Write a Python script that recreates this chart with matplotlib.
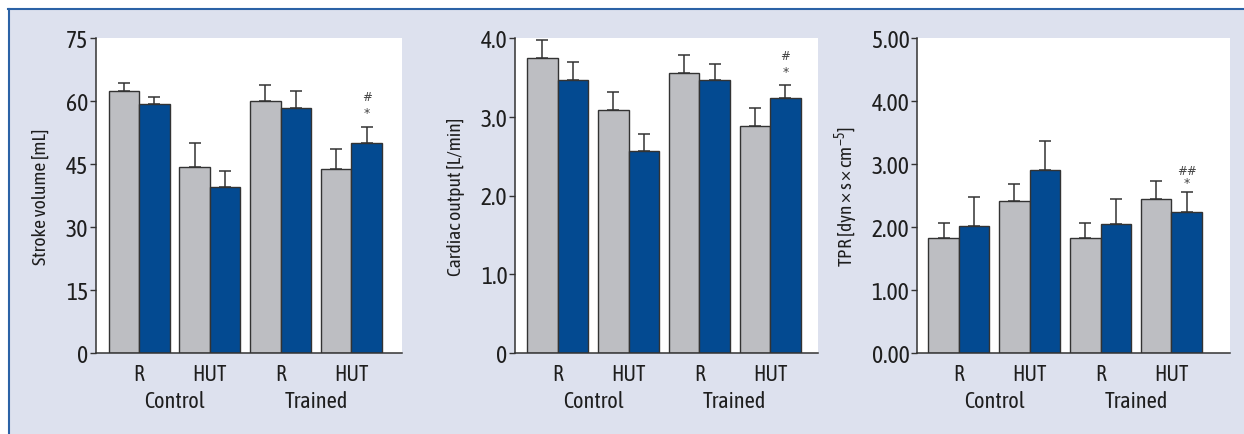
import numpy as np
import matplotlib
matplotlib.use("Agg")
import matplotlib.pyplot as plt
from matplotlib import font_manager
from matplotlib.patches import Rectangle
from matplotlib.lines import Line2D

# pick a narrow sans if one is installed (reference uses a condensed face)
installed = {(f.name, f.stretch) for f in font_manager.fontManager.ttflist}
names = {n for n, _ in installed}
family = 'Liberation Sans'
if 'Liberation Sans Narrow' in names:
    family = 'Liberation Sans Narrow'
elif any('Condensed' in n for n in names):
    family = sorted(n for n in names if 'Condensed' in n)[0]

narrow = family != 'Liberation Sans'
plt.rcParams['font.family'] = [family, 'Liberation Sans', 'DejaVu Sans']
plt.rcParams['mathtext.fontset'] = 'custom'
plt.rcParams['mathtext.rm'] = family
plt.rcParams['mathtext.it'] = family

conditions = ['R', 'HUT', 'R', 'HUT']
groups = ['Control', 'Trained']

# gray = first bar, blue = second bar of each pair
sv_gray = [62.5, 44.4, 60.1, 43.9]
sv_gray_err = [1.8, 5.7, 3.7, 4.7]
sv_blue = [59.3, 39.6, 58.3, 50.1]
sv_blue_err = [1.7, 3.8, 4.1, 3.8]

co_gray = [3.74, 3.08, 3.56, 2.88]
co_gray_err = [0.23, 0.24, 0.23, 0.23]
co_blue = [3.47, 2.56, 3.47, 3.24]
co_blue_err = [0.22, 0.215, 0.20, 0.16]

tpr_gray = [1.82, 2.42, 1.82, 2.45]
tpr_gray_err = [0.25, 0.26, 0.24, 0.28]
tpr_blue = [2.02, 2.90, 2.05, 2.24]
tpr_blue_err = [0.46, 0.46, 0.40, 0.31]

sv_ticks = [0, 15, 30, 45, 60, 75]
co_ticks = [0, 1.0, 2.0, 3.0, 4.0]
co_ticklabels = ['0', '1.0', '2.0', '3.0', '4.0']
tpr_ticks = [0, 1, 2, 3, 4, 5]
tpr_ticklabels = ['0.00', '1.00', '2.00', '3.00', '4.00', '5.00']

GRAY = '#bdbec2'
BLUE = '#034a91'
EDGE = '#333333'
TXT = '#1e1e1e'
BG = '#dde1ee'
if narrow:
    FS_Y, FS_X, FS_G, FS_L = 17, 15.5, 16, 14
else:
    FS_Y, FS_X, FS_G, FS_L = 14, 14, 14, 13

fig = plt.figure(figsize=(12.44, 4.35), dpi=100, facecolor='white')
fig.patches.append(Rectangle((9 / 1244, 0), 1, 1 - 11 / 435, transform=fig.transFigure,
                             facecolor=BG, edgecolor='none', zorder=-10))
fig.lines.append(Line2D([8 / 1244, 1243 / 1244], [1 - 10 / 435, 1 - 10 / 435],
                        transform=fig.transFigure, color='#2b62a6', lw=1.5))
fig.lines.append(Line2D([9 / 1244, 9 / 1244], [0, 1 - 10 / 435],
                        transform=fig.transFigure, color='#2b62a6', lw=1.5))

bottom = 1 - 354 / 435
height = (354 - 39) / 435
panels = [
    dict(rect=[96 / 1244, bottom, 306 / 1244, height], gray=sv_gray, gerr=sv_gray_err,
         blue=sv_blue, berr=sv_blue_err, ticks=sv_ticks, ticklabels=[str(t) for t in sv_ticks],
         ymax=75, ylabel='Stroke volume [mL]', labx=-0.15, xlim=(-1.41, 8.62),
         mark=('#', '*'), off=(21.5, 10)),
    dict(rect=[515 / 1244, bottom, 303 / 1244, height], gray=co_gray, gerr=co_gray_err,
         blue=co_blue, berr=co_blue_err, ticks=co_ticks, ticklabels=co_ticklabels,
         ymax=4.0, ylabel='Cardiac output [L/min]', labx=-0.165, xlim=(-1.40, 8.53),
         mark=('#', '*'), off=(21.5, 10)),
    dict(rect=[917 / 1244, bottom, 313 / 1244, height], gray=tpr_gray, gerr=tpr_gray_err,
         blue=tpr_blue, berr=tpr_blue_err, ticks=tpr_ticks, ticklabels=tpr_ticklabels,
         ymax=5.0, ylabel=r'TPR [dyn × s × cm$^{-5}$]', labx=-0.183, xlim=(-1.37, 8.88),
         mark=('##', '*'), off=(15.5, 7)),
]

centers = np.arange(4) * 2.32

for p in panels:
    ax = fig.add_axes(p['rect'])
    ax.set_facecolor('white')
    ax.bar(centers - 0.5, p['gray'], width=1.0, color=GRAY, edgecolor=EDGE, linewidth=1.0, zorder=2)
    ax.bar(centers + 0.5, p['blue'], width=1.0, color=BLUE, edgecolor=EDGE, linewidth=1.0, zorder=2)
    ax.errorbar(centers - 0.5, p['gray'], yerr=[np.zeros(4), p['gerr']], fmt='none',
                ecolor=EDGE, elinewidth=1.1, capsize=4, capthick=1.1, zorder=3)
    ax.errorbar(centers + 0.5, p['blue'], yerr=[np.zeros(4), p['berr']], fmt='none',
                ecolor=EDGE, elinewidth=1.1, capsize=4, capthick=1.1, zorder=3)
    ax.set_xlim(*p['xlim'])
    ax.set_ylim(0, p['ymax'])
    ax.set_yticks(p['ticks'])
    ax.set_yticklabels(p['ticklabels'], fontsize=FS_Y, color=TXT)
    ax.tick_params(axis='y', direction='out', length=4, width=1.0, pad=1.5, color=EDGE)
    ax.set_xticks(centers)
    ax.set_xticklabels(conditions, fontsize=FS_X, color=TXT)
    ax.tick_params(axis='x', length=0, pad=7)
    for s in ['top', 'right']:
        ax.spines[s].set_visible(False)
    for s in ['left', 'bottom']:
        ax.spines[s].set_color(EDGE)
        ax.spines[s].set_linewidth(1.1)
    ax.set_ylabel(p['ylabel'], fontsize=FS_L, color=TXT)
    ax.yaxis.set_label_coords(p['labx'], 0.5)
    for gi, g in enumerate(groups):
        ax.text((centers[2 * gi] + centers[2 * gi + 1]) / 2, -0.152, g,
                transform=ax.get_xaxis_transform(), ha='center', va='center',
                fontsize=FS_G, color=TXT)
    top = p['blue'][3] + p['berr'][3]
    ax.annotate(p['mark'][0], (centers[3] + 0.5, top), xytext=(0, p['off'][0]),
                textcoords='offset points', ha='center', va='center', fontsize=8.5,
                color='#444444', family='DejaVu Sans')
    ax.annotate(p['mark'][1], (centers[3] + 0.5, top), xytext=(0, p['off'][1]),
                textcoords='offset points', ha='center', va='center', fontsize=9,
                color='#444444', family='DejaVu Sans')

fig.savefig('out.png', dpi=100, facecolor=fig.get_facecolor())
